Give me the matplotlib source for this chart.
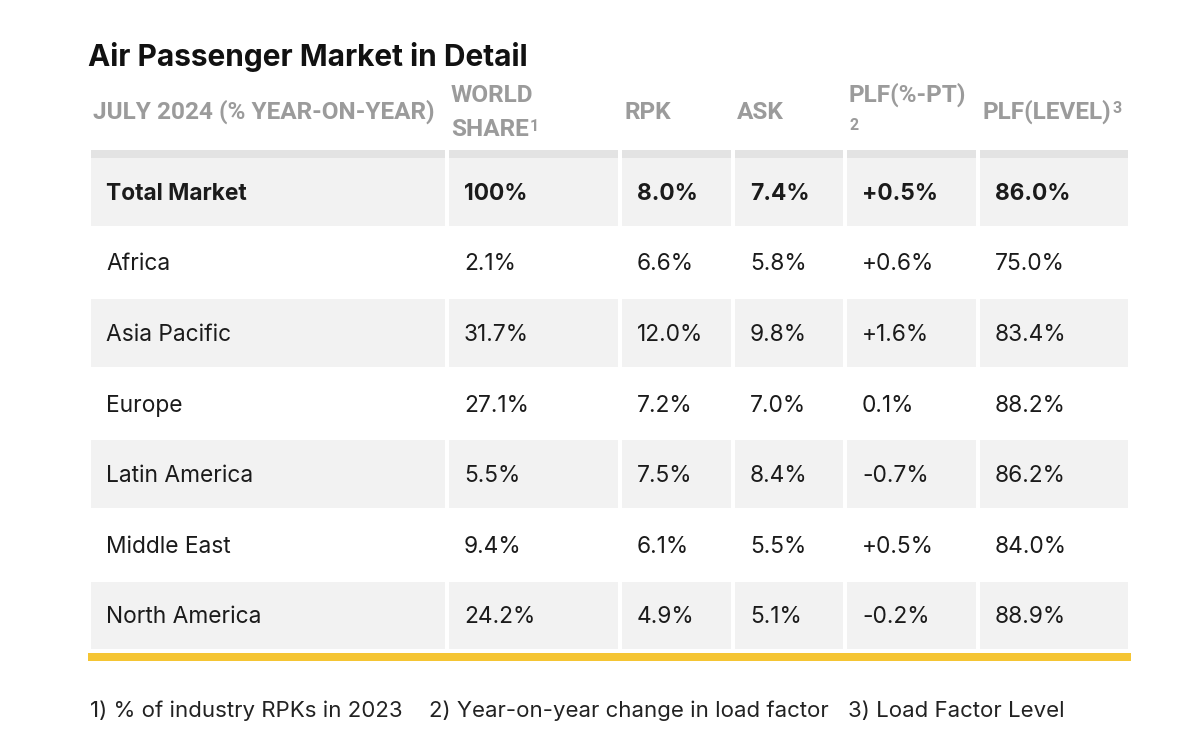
import matplotlib
matplotlib.use("Agg")
import matplotlib.pyplot as plt
from matplotlib.patches import Rectangle


# ============================================================
# Data
# ============================================================

TITLE = "Air Passenger Market in Detail"

HEADERS = ["JULY 2024 (% YEAR-ON-YEAR)", "WORLD\nSHARE", "RPK", "ASK", "PLF(%-PT)", "PLF(LEVEL)"]
HEADER_NOTES = ["", "1", "", "", "2", "3"]

regions = ["Total Market", "Africa", "Asia Pacific", "Europe",
           "Latin America", "Middle East", "North America"]
world_share = ["100%", "2.1%", "31.7%", "27.1%", "5.5%", "9.4%", "24.2%"]
rpk = ["8.0%", "6.6%", "12.0%", "7.2%", "7.5%", "6.1%", "4.9%"]
ask = ["7.4%", "5.8%", "9.8%", "7.0%", "8.4%", "5.5%", "5.1%"]
plf_pt = ["+0.5%", "+0.6%", "+1.6%", "0.1%", "-0.7%", "+0.5%", "-0.2%"]
plf_level = ["86.0%", "75.0%", "83.4%", "88.2%", "86.2%", "84.0%", "88.9%"]

FOOTNOTES = ["1) % of industry RPKs in 2023",
             "2) Year-on-year change in load factor",
             "3) Load Factor Level"]

# ============================================================
# Layout / style
# ============================================================

W, H = 1200, 753
COL_LEFT = [91, 449, 622, 735, 847, 980]
COL_RIGHT = [445, 618, 731, 843, 976, 1128]
ROW_TOP = 158
ROW_PITCH = 70.6
CELL_H = 67.5
BAND_H = 8

CELL_BG = "#f2f2f2"
BAND_BG = "#e3e3e3"
HEAD_COLOR = "#9b9b9b"
TEXT_COLOR = "#1b1b1b"
YELLOW = "#f5c533"

FONT = ["Inter", "DejaVu Sans"]
HEAD_FONT = ["Roboto", "DejaVu Sans"]
HEAD_SIZE = 17.6
NOTE_SIZE = 11.5
BODY_SIZE = 16.4

fig = plt.figure(figsize=(W / 100, H / 100), dpi=100)
ax = fig.add_axes([0, 0, 1, 1])
ax.set_xlim(0, W)
ax.set_ylim(H, 0)
ax.axis("off")

# title
ax.text(88, 57, TITLE, fontsize=21.5, fontweight="bold", color="#111111",
        family=FONT, va="center", ha="left")

# header
renderer = fig.canvas.get_renderer()
head_x = [93, 451, 625, 737, 849, 983]
for i, (lab, note) in enumerate(zip(HEADERS, HEADER_NOTES)):
    lines = lab.split("\n")
    if i == 4:
        # PLF(%-PT) with footnote on its own line
        ax.text(head_x[i], 95, lines[0], fontsize=HEAD_SIZE, fontweight="bold",
                color=HEAD_COLOR, family=HEAD_FONT, va="center")
        ax.text(head_x[i] + 1, 125, note, fontsize=NOTE_SIZE, fontweight="bold",
                color=HEAD_COLOR, family=HEAD_FONT, va="center")
        continue
    if len(lines) == 2:
        ax.text(head_x[i], 95, lines[0], fontsize=HEAD_SIZE, fontweight="bold",
                color=HEAD_COLOR, family=HEAD_FONT, va="center")
        t = ax.text(head_x[i], 129, lines[1], fontsize=HEAD_SIZE, fontweight="bold",
                    color=HEAD_COLOR, family=HEAD_FONT, va="center")
    else:
        t = ax.text(head_x[i], 112, lines[0], fontsize=HEAD_SIZE, fontweight="bold",
                    color=HEAD_COLOR, family=HEAD_FONT, va="center")
    if note:
        bb = t.get_window_extent(renderer)
        x1, y1 = ax.transData.inverted().transform((bb.x1, bb.y1))
        ax.text(x1 + 1, y1 + 1, note, fontsize=NOTE_SIZE, fontweight="bold",
                color=HEAD_COLOR, family=HEAD_FONT, va="top")

# table body
columns = [regions, world_share, rpk, ask, plf_pt, plf_level]
for r in range(len(regions)):
    top = ROW_TOP + r * ROW_PITCH
    grey = r % 2 == 0
    for c in range(len(columns)):
        if grey:
            ax.add_patch(Rectangle((COL_LEFT[c], top), COL_RIGHT[c] - COL_LEFT[c], CELL_H,
                                   facecolor=CELL_BG, edgecolor="none"))
            if r == 0:
                ax.add_patch(Rectangle((COL_LEFT[c], top - BAND_H), COL_RIGHT[c] - COL_LEFT[c],
                                       BAND_H, facecolor=BAND_BG, edgecolor="none"))
        ax.text(COL_LEFT[c] + 15, top + CELL_H / 2 + 2, columns[c][r], fontsize=BODY_SIZE,
                fontweight="bold" if r == 0 else "normal", color=TEXT_COLOR,
                family=FONT, va="center", ha="left")

# yellow rule under the table
ax.add_patch(Rectangle((88, 653), 1131 - 88, 8, facecolor=YELLOW, edgecolor="none"))

# footnotes
foot_x = [90, 429, 848]
for x, txt in zip(foot_x, FOOTNOTES):
    ax.text(x, 711, txt, fontsize=16, color="#222222", family=FONT, va="center", ha="left")

fig.savefig("out.png", dpi=100)
